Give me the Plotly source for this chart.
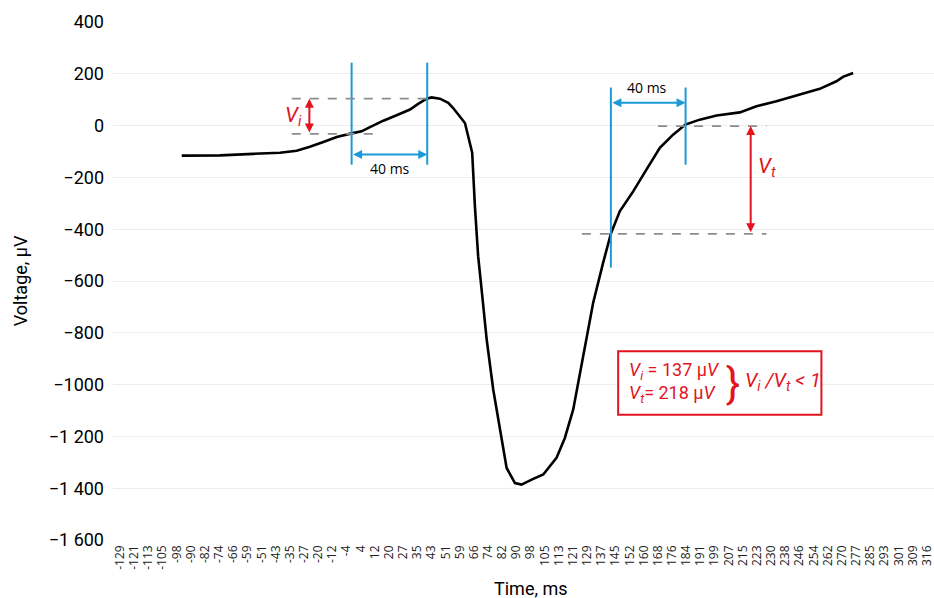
import plotly.graph_objects as go

# ---- data ----
tick_labels = ["-129", "-121", "-113", "-105", "-98", "-90", "-82", "-74", "-66", "-59",
               "-51", "-43", "-35", "-27", "-20", "-12", "-4", "4", "12", "20", "27", "35",
               "43", "51", "59", "66", "74", "82", "90", "98", "105", "113", "121", "129",
               "137", "145", "152", "160", "168", "176", "184", "191", "199", "207", "215",
               "223", "230", "238", "246", "254", "262", "270", "277", "285", "293", "301",
               "309", "316"]
time_ms = [-95.0, -73.9, -55.5, -40.8, -31.6, -24.3, -16.9, -9.5, -1.3, 4.2, 8.8, 16.2,
           23.5, 30.9, 35.4, 40.1, 42.8, 47.4, 52.0, 54.7, 61.2, 65.2, 66.7, 68.5, 70.4,
           73.2, 76.8, 80.5, 84.2, 88.8, 92.4, 98.0, 104.4, 111.7, 116.3, 120.9, 126.4,
           131.9, 137.4, 141.7, 146.6, 154.0, 161.3, 168.7, 176.0, 182.8, 190.7, 200.0,
           212.8, 222.0, 233.0, 245.9, 256.9, 266.1, 269.7, 275.3]
voltage_uv = [-116, -115, -109, -105, -97, -82, -63, -44, -30, -22, -6, 19, 40, 62, 84,
              104, 109, 104, 88, 68, 10, -105, -312, -505, -633, -826, -1019, -1174, -1322,
              -1380, -1386, -1367, -1347, -1283, -1206, -1097, -891, -685, -530, -417, -331,
              -254, -170, -86, -35, 4, 23, 39, 51, 75, 94, 120, 142, 171, 188, 203]
y_tick_vals = [400, 200, 0, -200, -400, -600, -800, -1000, -1200, -1400, -1600]
y_tick_text = ["400", "200", "0", "\u2212200", "\u2212400", "\u2212600", "\u2212800",
               "\u22121000", "\u22121 200", "\u22121 400", "\u22121 600"]

# annotation geometry (ms, µV)
win1 = (-1.3, 40.4)
win2 = (141.7, 182.9)
vi_top, vi_bot = 104, -32
vt_top, vt_bot = -2, -418

step = (316 - (-129)) / (len(tick_labels) - 1)
tick_pos = [-129 + i * step for i in range(len(tick_labels))]

COND = "Roboto, sans-serif"
BLUE = "#1b9ad6"
RED = "#e2141f"
GREY = "#8c8c8c"

fig = go.Figure()
fig.add_trace(go.Scatter(x=time_ms, y=voltage_uv, mode="lines",
                         line=dict(color="black", width=2.6), hoverinfo="skip"))

shapes = []
def vline(x, y0, y1):
    shapes.append(dict(type="line", xref="x", yref="y", x0=x, x1=x, y0=y0, y1=y1,
                       line=dict(color=BLUE, width=2)))
def dline(x0, x1, y):
    shapes.append(dict(type="line", xref="x", yref="y", x0=x0, x1=x1, y0=y, y1=y,
                       line=dict(color=GREY, width=1.6, dash="dash")))

vline(win1[0], 243, -151)
vline(win1[1], 243, -151)
vline(win2[0], 147, -548)
vline(win2[1], 147, -151)
dline(-34.3, 40.1, vi_top)
dline(-34.3, 10.6, vi_bot)
dline(167.7, 227.5, vt_top)
dline(125.7, 227.5, vt_bot)
shapes.append(dict(type="rect", xref="x", yref="y", x0=145.7, x1=257.8, y0=-871, y1=-1116,
                   line=dict(color=RED, width=2), fillcolor="white", layer="above"))

ann = []
def arrow(x0, y0, x1, y1, color, size=1.0):
    ann.append(dict(x=x1, y=y1, ax=x0, ay=y0, xref="x", yref="y", axref="x", ayref="y",
                    text="", showarrow=True, arrowhead=2, arrowside="end+start",
                    arrowsize=size, arrowwidth=2, arrowcolor=color, standoff=0, startstandoff=0))

arrow(win1[0], -112, win1[1], -112, BLUE, 0.9)
arrow(win2[0], 88, win2[1], 88, BLUE, 0.9)
arrow(-24.6, vi_bot, -24.6, vi_top, RED, 0.9)
arrow(218.8, vt_bot, 218.8, vt_top, RED, 0.9)

def txt(x, y, s, size, color="black", xanchor="center", family="Open Sans, sans-serif", yanchor="middle"):
    ann.append(dict(x=x, y=y, xref="x", yref="y", text=s, showarrow=False,
                    xanchor=xanchor, yanchor=yanchor, align="left",
                    font=dict(family=family, size=size, color=color)))

txt(19.8, -166, "40 ms", 14)
txt(161.5, 147, "40 ms", 14)
txt(-27.5, 36, "<i>V<sub>i</sub></i>", 21, RED, "right", COND)
txt(221.5, -162, "<i>V<sub>t</sub></i>", 21, RED, "left", COND)
txt(150.5, -992, "<i>V<sub>i</sub></i> = 137 µ<i>V</i><br><i>V<sub>t</sub></i>= 218 µ<i>V</i>",
    18, RED, "left", COND)
txt(208.9, -995, "}", 42, RED, "center", COND)
txt(214.5, -988, "<i>V<sub>i</sub> /V<sub>t</sub></i><i> &lt; 1</i>", 20, RED, "left", COND)

# axis titles
ann.append(dict(x=0.509, y=-0.093, xref="paper", yref="paper", text="Time, ms", showarrow=False,
                xanchor="center", yanchor="middle", font=dict(family=COND, size=18, color="black")))
ann.append(dict(x=-0.113, y=0.5, xref="paper", yref="paper", text="Voltage, µV", showarrow=False,
                textangle=-90, xanchor="center", yanchor="middle",
                font=dict(family=COND, size=18, color="black")))

fig.update_layout(
    width=934, height=598,
    margin=dict(l=113, r=0, t=22, b=58),
    paper_bgcolor="white", plot_bgcolor="white",
    showlegend=False,
    shapes=shapes, annotations=ann,
    xaxis=dict(range=[-129 - step / 2, 316 + step / 2], tickmode="array",
               tickvals=tick_pos, ticktext=tick_labels, tickangle=-90,
               tickfont=dict(family="Open Sans, sans-serif", size=12, color="#222222"),
               showgrid=False, zeroline=False, showline=False, ticks="", ticklabelstandoff=2,
               ticklabeloverflow="allow"),
    yaxis=dict(range=[-1600, 400], tickmode="array", tickvals=y_tick_vals,
               ticktext=y_tick_text, tickfont=dict(family=COND, size=18, color="black"),
               showgrid=True, gridcolor="#ececec", gridwidth=1, zeroline=False,
               showline=False, ticks="", ticklabelstandoff=8),
)

fig.write_html("out.html", config={"displayModeBar": False},
               post_script="document.body.style.margin='0';document.body.style.overflow='hidden';")
